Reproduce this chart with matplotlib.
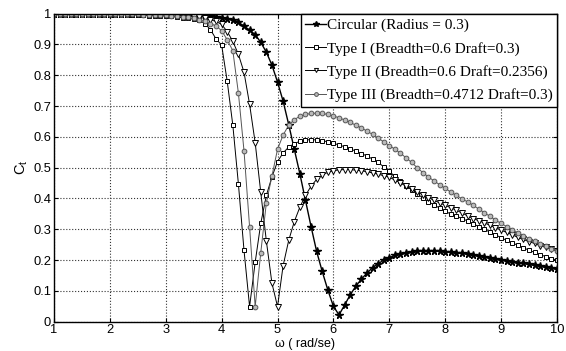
import numpy as np
import matplotlib
matplotlib.use('Agg')
import matplotlib.pyplot as plt

# frequency (rad/s), sampled every 0.1 from 1 to 10
omega = [round(1.0 + 0.1 * i, 1) for i in range(91)]

# Circular (Radius = 0.3)
ct_circ = [1.0, 1.0, 1.0, 1.0, 1.0, 1.0, 1.0, 1.0, 1.0, 1.0,          # 1.0-1.9
           1.0, 1.0, 1.0, 1.0, 1.0, 1.0, 1.0, 1.0, 1.0, 1.0,          # 2.0-2.9
           1.0, 0.999, 0.998, 0.997, 0.996, 0.995, 0.994, 0.993, 0.991, 0.989,  # 3.0-3.9
           0.987, 0.984, 0.980, 0.972, 0.960, 0.947, 0.932, 0.907, 0.875, 0.833,  # 4.0-4.9
           0.778, 0.716, 0.640, 0.560, 0.480, 0.394, 0.309, 0.228, 0.163, 0.103,  # 5.0-5.9
           0.050, 0.022, 0.054, 0.087, 0.115, 0.138, 0.158, 0.175, 0.188, 0.200,  # 6.0-6.9
           0.208, 0.215, 0.220, 0.224, 0.227, 0.229, 0.230, 0.230, 0.230, 0.229,  # 7.0-7.9
           0.227, 0.226, 0.224, 0.222, 0.219, 0.216, 0.213, 0.210, 0.207, 0.204,  # 8.0-8.9
           0.201, 0.198, 0.195, 0.192, 0.189, 0.186, 0.183, 0.180, 0.177, 0.174,  # 9.0-9.9
           0.171]

# Type I (Breadth=0.6 Draft=0.3)
ct_type1 = [1.0, 1.0, 1.0, 1.0, 1.0, 1.0, 1.0, 1.0, 1.0, 1.0,
            1.0, 0.999, 0.999, 0.998, 0.997, 0.996, 0.995, 0.994, 0.993, 0.992,
            0.993, 0.991, 0.989, 0.987, 0.985, 0.982, 0.978, 0.968, 0.948, 0.918,
            0.898, 0.780, 0.638, 0.447, 0.232, 0.049, 0.193, 0.319, 0.410, 0.470,
            0.520, 0.548, 0.567, 0.578, 0.586, 0.590, 0.591, 0.590, 0.588, 0.584,
            0.579, 0.574, 0.568, 0.561, 0.554, 0.546, 0.538, 0.528, 0.517, 0.503,
            0.488, 0.472, 0.457, 0.442, 0.428, 0.415, 0.402, 0.390, 0.379, 0.369,
            0.358, 0.350, 0.343, 0.335, 0.327, 0.318, 0.309, 0.300, 0.291, 0.282,
            0.273, 0.264, 0.256, 0.248, 0.240, 0.232, 0.225, 0.218, 0.211, 0.205,
            0.200]

# Type II (Breadth=0.6 Draft=0.2356)
ct_type2 = [1.0, 1.0, 1.0, 1.0, 1.0, 1.0, 1.0, 1.0, 1.0, 1.0,
            1.0, 1.0, 1.0, 0.999, 0.999, 0.999, 0.999, 0.998, 0.998, 0.998,
            0.998, 0.997, 0.996, 0.995, 0.993, 0.990, 0.988, 0.985, 0.980, 0.975,
            0.965, 0.942, 0.910, 0.868, 0.810, 0.706, 0.581, 0.420, 0.262, 0.125,
            0.049, 0.182, 0.264, 0.325, 0.372, 0.410, 0.440, 0.462, 0.476, 0.485,
            0.490, 0.493, 0.494, 0.494, 0.492, 0.490, 0.487, 0.483, 0.479, 0.474,
            0.469, 0.460, 0.450, 0.440, 0.430, 0.421, 0.412, 0.403, 0.394, 0.386,
            0.378, 0.370, 0.362, 0.353, 0.344, 0.335, 0.328, 0.321, 0.313, 0.305,
            0.297, 0.290, 0.282, 0.274, 0.267, 0.260, 0.254, 0.247, 0.241, 0.235,
            0.230]

# Type III (Breadth=0.4712 Draft=0.3)
ct_type3 = [1.0, 1.0, 1.0, 1.0, 1.0, 1.0, 1.0, 1.0, 1.0, 1.0,
            1.0, 1.0, 0.999, 0.999, 0.998, 0.998, 0.997, 0.997, 0.996, 0.996,
            0.995, 0.994, 0.992, 0.990, 0.988, 0.985, 0.980, 0.975, 0.968, 0.960,
            0.945, 0.915, 0.880, 0.742, 0.555, 0.308, 0.049, 0.224, 0.386, 0.473,
            0.560, 0.606, 0.638, 0.656, 0.667, 0.673, 0.676, 0.677, 0.676, 0.673,
            0.668, 0.662, 0.655, 0.647, 0.638, 0.629, 0.619, 0.608, 0.596, 0.584,
            0.572, 0.560, 0.547, 0.532, 0.517, 0.500, 0.484, 0.470, 0.457, 0.445,
            0.433, 0.421, 0.410, 0.399, 0.389, 0.378, 0.366, 0.354, 0.342, 0.330,
            0.319, 0.309, 0.299, 0.289, 0.279, 0.270, 0.261, 0.253, 0.245, 0.237,
            0.230]

labels = ['Circular (Radius = 0.3)',
          'Type I (Breadth=0.6 Draft=0.3)',
          'Type II (Breadth=0.6 Draft=0.2356)',
          'Type III (Breadth=0.4712 Draft=0.3)']

plt.rcParams['font.family'] = ['Liberation Sans', 'DejaVu Sans']

fig = plt.figure(figsize=(5.66, 3.51), dpi=100)
ax = fig.add_axes([0.0954, 0.0835, 0.8886, 0.8775])

ax.plot(omega, ct_circ, color='black', linewidth=1.0, marker='*',
        markersize=5.5, markerfacecolor='black', markeredgecolor='black',
        label=labels[0])
ax.plot(omega, ct_type1, color='black', linewidth=0.7, marker='s',
        markersize=3.4, markerfacecolor='white', markeredgecolor='black',
        markeredgewidth=0.7, label=labels[1])
ax.plot(omega, ct_type2, color='black', linewidth=0.7, marker='v',
        markersize=3.7, markerfacecolor='white', markeredgecolor='black',
        markeredgewidth=0.7, label=labels[2])
ax.plot(omega, ct_type3, color='#555555', linewidth=0.7, marker='o',
        markersize=3.4, markerfacecolor='#bbbbbb', markeredgecolor='#555555',
        markeredgewidth=0.7, label=labels[3])

ax.set_xlim(1, 10)
ax.set_ylim(0, 1)
ax.set_xticks(range(1, 11))
ax.set_yticks(np.arange(0, 1.01, 0.1))
ax.set_yticklabels(['0', '0.1', '0.2', '0.3', '0.4', '0.5', '0.6', '0.7',
                    '0.8', '0.9', '1'])
ax.tick_params(direction='in', top=True, right=True, labelsize=9.3, length=3,
               pad=2)
ax.grid(True, color='#333333', linestyle=':', linewidth=0.8)
for s in ax.spines.values():
    s.set_linewidth(1.0)

ax.set_xlabel('ω ( rad/se)', fontsize=9, labelpad=1)
ax.set_ylabel('C$_\\mathregular{t}$', fontsize=10.5, labelpad=2)

leg = ax.legend(loc='upper right', prop={'family': 'Liberation Serif', 'size': 11},
                handlelength=1.35, handletextpad=0.05, borderpad=0.3,
                labelspacing=0.62, borderaxespad=0, fancybox=False,
                framealpha=1, edgecolor='black', markerscale=0.8)
leg.get_frame().set_linewidth(1.0)

plt.savefig('out.png', dpi=100)
